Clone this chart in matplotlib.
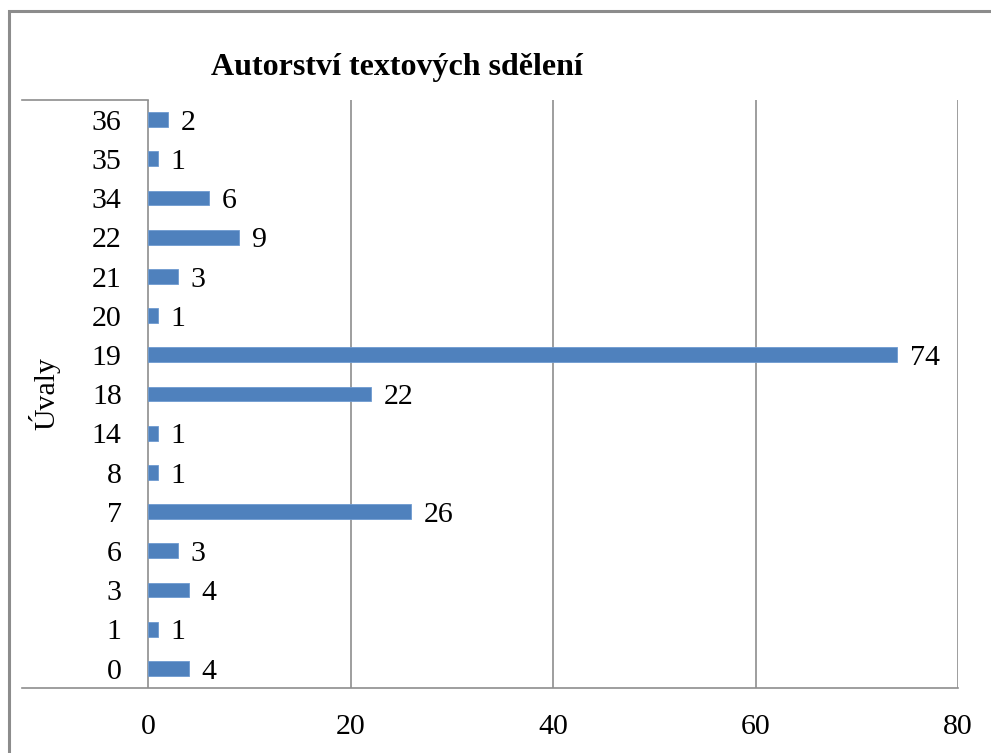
import matplotlib
matplotlib.use("Agg")
import matplotlib.pyplot as plt
from matplotlib.patches import Rectangle

categories = ["0", "1", "3", "6", "7", "8", "14", "18", "19", "20", "21", "22", "34", "35", "36"]
values = [4, 1, 4, 3, 26, 1, 1, 22, 74, 1, 3, 9, 6, 1, 2]
xticks = [0, 20, 40, 60, 80]
title = "Autorství textových sdělení"
ylabel = "Úvaly"

W, H = 991, 753
plt.rcParams['font.family'] = ['Liberation Serif', 'DejaVu Serif']
fig = plt.figure(figsize=(W / 100, H / 100), dpi=100)

# outer chart border (cropped at right and bottom)
fig.patches.append(Rectangle((9 / W, -0.1), 1.2, 1 - 11 / H + 0.1, transform=fig.transFigure,
                             fill=False, edgecolor="#8c8c8c", linewidth=2.2, zorder=0))

ax = fig.add_axes([22 / W, 1 - 688 / H, (958 - 22) / W, (688 - 100) / H])
xmin = -12.45
ax.set_xlim(xmin, 80)
ax.set_ylim(-0.5, len(categories) - 0.5)

grid_c = "#8e8e8e"
for s in ["top", "left", "right"]:
    ax.spines[s].set_visible(False)
ax.spines["bottom"].set_color(grid_c)
ax.spines["bottom"].set_linewidth(1.2)

for xv in xticks:
    ax.axvline(xv, color=grid_c, linewidth=1.2, zorder=1)
# short top line left of the category axis
ax.plot([xmin, 0], [len(categories) - 0.5] * 2, color=grid_c, linewidth=1.2, clip_on=False, zorder=1)

ypos = list(range(len(categories)))
ax.barh(ypos, values, height=0.38, color="#4F81BD", edgecolor="#6f9bd0", linewidth=0.6, zorder=3)

for y, v in zip(ypos, values):
    ax.annotate(str(v), (v, y), xytext=(9, -7.3), textcoords="offset points",
                ha="left", va="baseline", fontsize=21.5, color="black")
    ax.annotate(categories[y], (0, y), xytext=(-19, -7.3), textcoords="offset points",
                ha="right", va="baseline", fontsize=21.5, color="black")

ax.set_yticks([])
ax.set_xticks(xticks)
ax.set_xticklabels([str(x) for x in xticks], fontsize=21.5)
ax.tick_params(axis="x", length=0, pad=19)

fig.text(397 / W, 1 - 75 / H, title, ha="center", va="baseline", fontsize=23, fontweight="bold")
fig.text(44 / W, 1 - 393 / H, ylabel, ha="center", va="center", rotation=90, fontsize=21.5)

fig.savefig("out.png", dpi=100)
